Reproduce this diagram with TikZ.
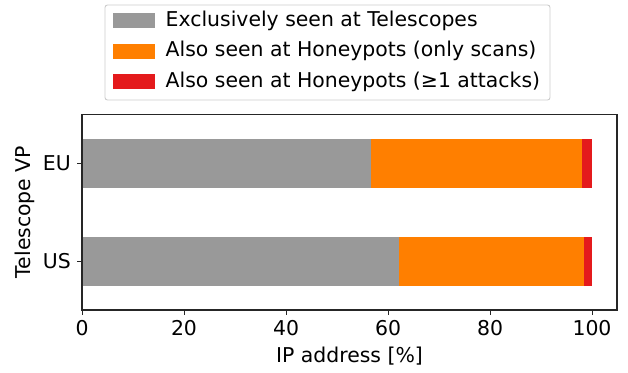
\documentclass[tikz,border=0pt]{standalone}
\usepackage{fontspec}
\setmainfont{DejaVu Sans}
\definecolor{cgray}{HTML}{999999}
\definecolor{corange}{HTML}{FF7F00}
\definecolor{cred}{HTML}{E41A1C}
\definecolor{cedge}{HTML}{CCCCCC}
\begin{document}
\begin{tikzpicture}[x=1pt,y=-1pt,
  lbl/.style={font=\fontsize{20.4}{24}\selectfont, inner sep=0pt},
  spine/.style={line width=1.1pt, black!85},
  tick/.style={line width=1pt, black!85}]
\useasboundingbox (0,0) rectangle (628,372);
% bars
\fill[cgray]   (82,139) rectangle (371.2,187.7);
\fill[corange] (371.2,139) rectangle (582,187.7);
\fill[cred]    (582,139) rectangle (592,187.7);
\fill[cgray]   (82,236.7) rectangle (399.2,285.7);
\fill[corange] (399.2,236.7) rectangle (584,285.7);
\fill[cred]    (584,236.7) rectangle (592,285.7);
% spines
\draw[spine] (82,114.7) rectangle (617,310);
% x ticks
\foreach \v [count=\i from 0] in {0,20,40,60,80,100} {
  \draw[tick] (82+\i*102,310) -- (82+\i*102,315);
  \node[lbl, anchor=north] (xt\i) at (82+\i*102,320) {\v};
}
% y ticks
\draw[tick] (77,163.3) -- (82,163.3);
\draw[tick] (77,261.2) -- (82,261.2);
\node[lbl, anchor=east] (yeu) at (71,163.3) {EU};
\node[lbl, anchor=east] (yus) at (71,261.2) {US};
% axis labels
\node[lbl, anchor=center] (xlab) at (349.5,356) {IP address [\%]};
\node[lbl, anchor=center, rotate=90] (ylab) at (25,212) {Telescope VP};
% legend
\draw[cedge, line width=0.9pt, rounded corners=2.5pt, fill=white] (105,5) rectangle (550,100);
\fill[cgray]   (113.3,13.3) rectangle (155,28.3);
\fill[corange] (113.3,43.7) rectangle (155,58.7);
\fill[cred]    (113.3,74.3) rectangle (155,89.3);
\node[lbl, anchor=west] (l1) at (165.5,20.8) {Exclusively seen at Telescopes};
\node[lbl, anchor=west] (l2) at (165.5,51.2) {Also seen at Honeypots (only scans)};
\node[lbl, anchor=west] (l3) at (165.5,81.8) {Also seen at Honeypots (≥1 attacks)};
\end{tikzpicture}
\end{document}
